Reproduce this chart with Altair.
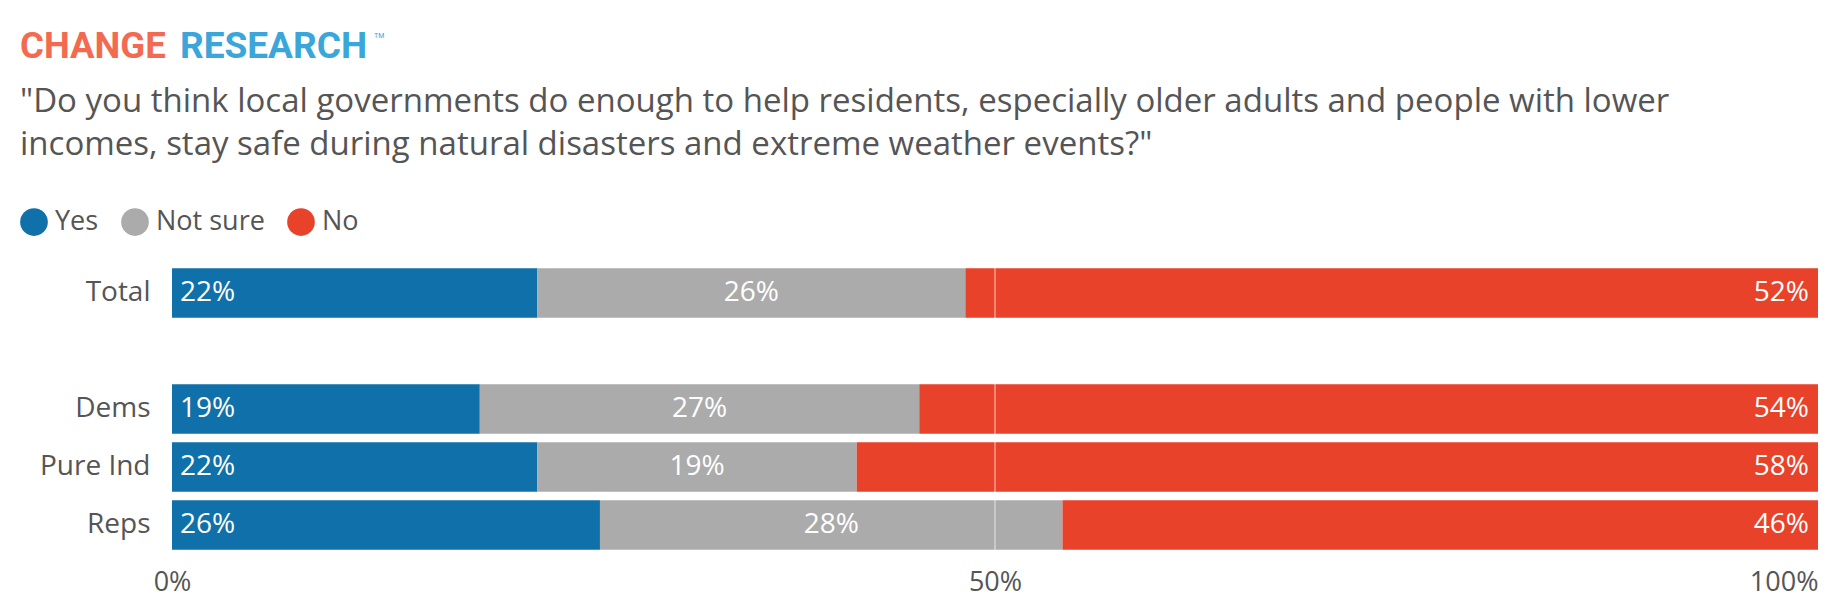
import altair as alt
import pandas as pd

# Survey results: shown (rounded) percent and bar shares
groups = ["Total", "Dems", "Pure Ind", "Reps"]
answers = ["Yes", "Not sure", "No"]
yes = [22, 19, 22, 26]
not_sure = [26, 27, 19, 28]
no = [52, 54, 58, 46]
yes_exact = [22.2, 18.7, 22.2, 26.0]
not_sure_exact = [26.0, 26.7, 19.4, 28.1]
no_exact = [51.8, 54.6, 58.4, 45.9]
row_order = ["Total", "", "Dems", "Pure Ind", "Reps"]  # "" = spacer row
x_ticks = [0, 0.5, 1]

FARGER = {"Yes": "#1070A9", "Not sure": "#ABABAB", "No": "#E8422B"}
GRA = "#555555"
FONT = "Open Sans"

question = [
    '"Do you think local governments do enough to help residents, especially older adults and people with lower',
    'incomes, stay safe during natural disasters and extreme weather events?"',
]

# long format, stacked to 100 % per row
rows = []
for i, g in enumerate(groups):
    shown = [yes[i], not_sure[i], no[i]]
    exact = [yes_exact[i], not_sure_exact[i], no_exact[i]]
    tot = sum(exact)
    start = 0.0
    for a, v, e in zip(answers, shown, exact):
        share = e / tot
        rows.append({"group": g, "answer": a, "label": f"{v}%",
                     "start": start, "end": start + share,
                     "mid": start + share / 2})
        start += share
df = pd.DataFrame(rows)

y = alt.Y("group:N",
          scale=alt.Scale(domain=row_order, paddingInner=0.143, paddingOuter=0.0715),
          axis=alt.Axis(title=None, ticks=False, domain=False, labelPadding=22,
                        labelFontSize=28, labelColor=GRA, labelFont=FONT))

base = alt.Chart(df)

bars = base.mark_bar().encode(
    x=alt.X("start:Q", scale=alt.Scale(domain=[0, 1]),
            axis=alt.Axis(title=None, values=x_ticks, format="%", grid=False,
                          ticks=False, tickSize=0, domain=False, labelFlush=False,
                          labelAlign=alt.condition("datum.value >= 1", alt.value("right"), alt.value("center")),
                          labelPadding=15, labelFontSize=27, labelColor=GRA, labelFont=FONT)),
    x2="end:Q",
    y=y,
    color=alt.Color("answer:N",
                    scale=alt.Scale(domain=answers, range=list(FARGER.values())),
                    legend=alt.Legend(title=None, orient="none", legendX=-152, legendY=-56,
                                      direction="horizontal", symbolType="circle",
                                      symbolSize=767, symbolStrokeWidth=0, symbolOpacity=1,
                                      labelFontSize=27, labelFont=FONT, labelColor=GRA,
                                      labelOffset=7, columnPadding=22)),
)

half = alt.Chart(pd.DataFrame({"x": [0.5]})).mark_rule(
    color="white", strokeWidth=1.3, opacity=0.55).encode(x="x:Q")

txt = dict(color="white", fontSize=28, font=FONT)
lab_yes = base.transform_filter("datum.answer == 'Yes'").mark_text(
    align="left", dx=8, **txt).encode(x="start:Q", y=y, text="label:N")
lab_ns = base.transform_filter("datum.answer == 'Not sure'").mark_text(
    align="center", **txt).encode(x="mid:Q", y=y, text="label:N")
lab_no = base.transform_filter("datum.answer == 'No'").mark_text(
    align="right", dx=-9, **txt).encode(x="end:Q", y=y, text="label:N")

one = alt.Data(values=[{}])
logo1 = alt.Chart(one).mark_text(
    text="CHANGE", align="left", baseline="alphabetic", font="Roboto",
    fontWeight="bold", fontSize=36.5, color="#F26A4F"
).encode(x=alt.value(-152), y=alt.value(-206))
logo2 = alt.Chart(one).mark_text(
    text="RESEARCH", align="left", baseline="alphabetic", font="Roboto",
    fontWeight="bold", fontSize=37, color="#3AA6DA"
).encode(x=alt.value(8), y=alt.value(-206))
logo_tm = alt.Chart(one).mark_text(
    text="TM", align="left", baseline="top", font="Roboto", fontSize=7,
    color="#3AA6DA").encode(x=alt.value(202), y=alt.value(-232))
fraga = alt.Chart(one).mark_text(
    text=question, align="left", baseline="alphabetic", font=FONT, fontSize=33,
    lineHeight=43.3, color=GRA).encode(x=alt.value(-152), y=alt.value(-152))

chart = (
    alt.layer(bars, half, lab_yes, lab_ns, lab_no, logo1, logo2, logo_tm, fraga)
    .properties(width=1646, height=290,
                autosize=alt.AutoSizeParams(type="none"),
                padding={"left": 164, "top": 256, "right": 14, "bottom": 50})
    .configure_view(strokeWidth=0)
)

chart.save("out.html", embed_options={"renderer": "svg", "actions": False})
